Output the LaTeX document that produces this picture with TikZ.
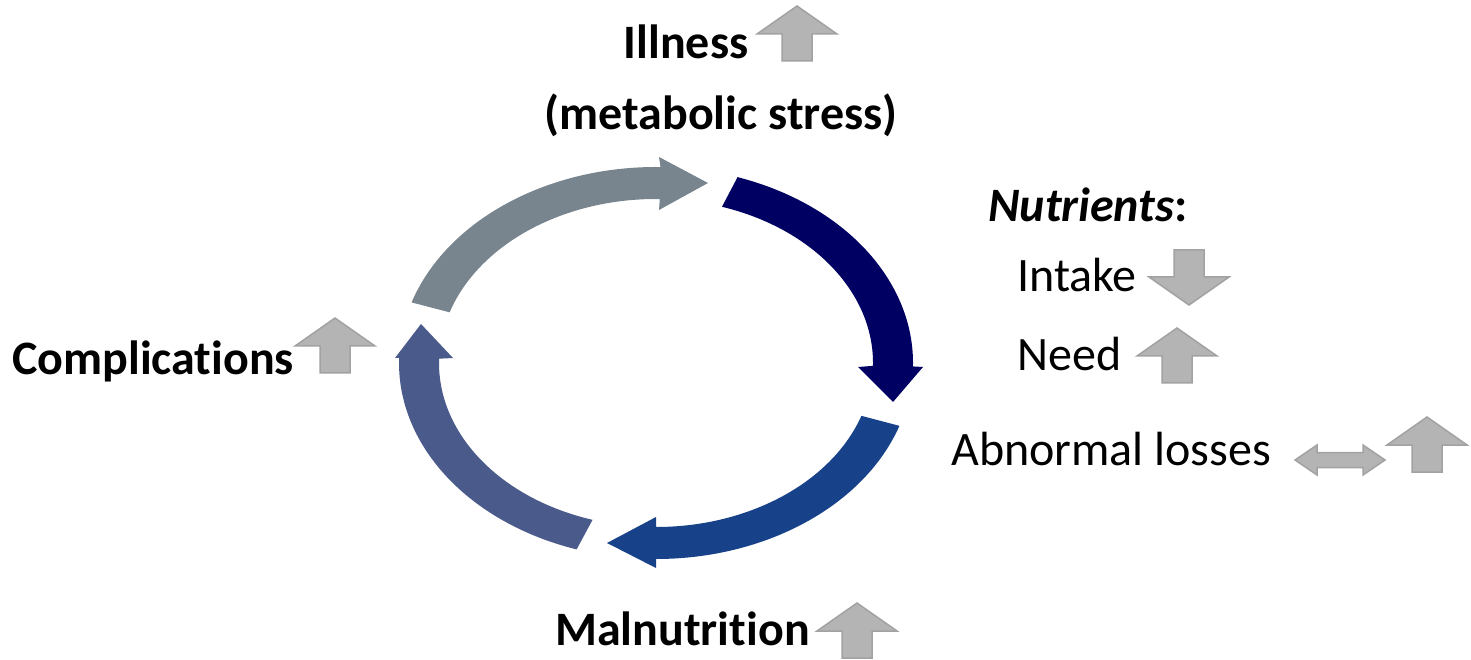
\documentclass[tikz,border=0pt]{standalone}
\usepackage{fontspec}
\setmainfont{Carlito}[Ligatures=NoCommon]
\usetikzlibrary{calc}
\definecolor{cgrey}{HTML}{78848E}
\definecolor{cnavy}{HTML}{000063}
\definecolor{cblue}{HTML}{17428A}
\definecolor{cslate}{HTML}{4A5B8B}
\definecolor{bfill}{HTML}{B4B4B4}
\definecolor{bline}{HTML}{A2A2A2}
\tikzset{
  blockarrow/.style={fill=bfill, draw=bline, line width=1.5pt, line join=miter},
  lbl/.style={inner sep=0pt, font=\fontsize{48}{56}\selectfont},
  uparrow/.pic={\draw[blockarrow] (-40,-28) -- (0,0) -- (40,-28) -- (15,-28) -- (15,-55) -- (-15,-55) -- (-15,-28) -- cycle;},
  dblarrow/.pic={\draw[blockarrow] (0,0) -- (22,15) -- (22,7.5) -- (68,7.5) -- (68,15) -- (90,0) -- (68,-15) -- (68,-7.5) -- (22,-7.5) -- (22,-15) -- cycle;}
}
\begin{document}
\begin{tikzpicture}[x=1pt,y=1pt]
\useasboundingbox (0,0) rectangle (1471,659);
\coordinate (C) at (656,296);
% cycle arrows
\fill[cgrey] ($(C)+(162:257 and 196)$) arc[start angle=162, end angle=89, x radius=257pt, y radius=196pt]
  -- (659,502) -- (708,476) -- (659,449) -- ($(C)+(89:217 and 164)$)
  arc[start angle=89, end angle=162, x radius=217pt, y radius=164pt] -- cycle;
\fill[cnavy] ($(C)+(71.5:257 and 196)$) arc[start angle=71.5, end angle=-1, x radius=257pt, y radius=196pt]
  -- (923,292) -- (893,257) -- (858,292) -- ($(C)+(-1:217 and 164)$)
  arc[start angle=-1, end angle=72.3, x radius=217pt, y radius=164pt] -- cycle;
\fill[cblue] ($(C)+(-18.7:257 and 196)$) arc[start angle=-18.7, end angle=-90, x radius=257pt, y radius=196pt]
  -- (656,91) -- (607,116) -- (656,142) -- ($(C)+(-90:217 and 164)$)
  arc[start angle=-90, end angle=-18.8, x radius=217pt, y radius=164pt] -- cycle;
\fill[cslate] ($(C)+(252:257 and 196)$) arc[start angle=252, end angle=178.5, x radius=257pt, y radius=196pt]
  -- (395,301) -- (421,335) -- (453,301) -- ($(C)+(178.5:217 and 164)$)
  arc[start angle=178.5, end angle=253, x radius=217pt, y radius=164pt] -- cycle;
% labels
\node[lbl, anchor=base] (ill) at (686,600) {\bfseries Illness};
\node[lbl, anchor=base] (meta) at (721,529) {\bfseries (metabolic stress)};
\node[lbl, anchor=base west] (nut) at (988,437) {\bfseries\itshape Nutrients\upshape:};
\node[lbl, anchor=base west] (intake) at (1017,367) {Intake};
\node[lbl, anchor=base west] (need) at (1017,288) {Need};
\node[lbl, anchor=base west] (abn) at (951,194) {Abnormal losses};
\node[lbl, anchor=base west] (comp) at (12,284) {\bfseries Complications};
\node[lbl, anchor=base west] (mal) at (555,14) {\bfseries Malnutrition};
% block arrows
\pic at (797,653) {uparrow};
\pic[rotate=180] at (1189,354) {uparrow};
\pic at (1177,331) {uparrow};
\pic at (335,341) {uparrow};
\pic at (857,56) {uparrow};
\pic at (1427,242) {uparrow};
\pic at (1295,199) {dblarrow};
\end{tikzpicture}
\end{document}
